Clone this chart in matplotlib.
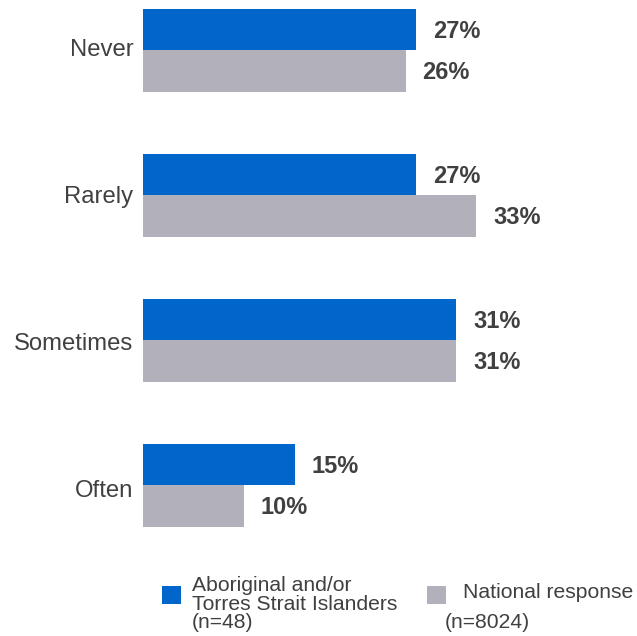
import matplotlib
matplotlib.use("Agg")
import matplotlib.pyplot as plt
from matplotlib.patches import Rectangle

categories = ["Never", "Rarely", "Sometimes", "Often"]
aboriginal = [27, 27, 31, 15]
national = [26, 33, 31, 10]
series_names = ["Aboriginal and/or\nTorres Strait Islanders\n(n=48)", "National response"]
series_n2 = "(n=8024)"

BLUE = "#0066CC"
GRAY = "#B1B0BB"
TXT = "#404040"

plt.rcParams['font.family'] = ['Liberation Sans', 'DejaVu Sans']

W, H = 637, 636
fig = plt.figure(figsize=(W / 100, H / 100), dpi=100)

left_px, right_px, top_px, bot_px = 143, 637, 0, 540
ax = fig.add_axes([left_px / W, 1 - bot_px / H, (right_px - left_px) / W, (bot_px - top_px) / H])
px_per_pct = 10.1
ax.set_xlim(0, (right_px - left_px) / px_per_pct)
unit = 145.0
ylen = (bot_px - top_px) / unit
top_off = 50 / unit
ax.set_ylim(ylen - top_off, -top_off)
bh = 41.5 / unit

ys = list(range(len(categories)))
ax.barh([y - bh / 2 for y in ys], aboriginal, height=bh, color=BLUE, linewidth=0)
ax.barh([y + bh / 2 for y in ys], national, height=bh, color=GRAY, linewidth=0)

off = 17 / px_per_pct
for y, a, n in zip(ys, aboriginal, national):
    ax.text(a + off, y - bh / 2 + 2 / unit, f"{a}%", ha="left", va="center", fontsize=17,
            fontweight="bold", color=TXT)
    ax.text(n + off, y + bh / 2 + 2 / unit, f"{n}%", ha="left", va="center", fontsize=17,
            fontweight="bold", color=TXT)

ax.set_yticks([y - 3 / unit + (2 / unit) * i for i, y in enumerate(ys)])
ax.set_yticklabels(categories, fontsize=17.2, color=TXT)
ax.tick_params(axis="y", length=0, pad=7)
ax.set_xticks([])
for s in ax.spines.values():
    s.set_visible(False)

def fx(x):
    return x / W

def fy(y):
    return 1 - y / H

fig.patches.append(Rectangle((fx(162), fy(604)), 19 / W, 18 / H, transform=fig.transFigure,
                             color=BLUE, linewidth=0))
fig.patches.append(Rectangle((fx(427), fy(604)), 19 / W, 18 / H, transform=fig.transFigure,
                             color=GRAY, linewidth=0))
fig.text(fx(192), fy(604), series_names[0], ha="left", va="center", fontsize=15.2,
         color=TXT, linespacing=0.95)
fig.text(fx(463), fy(593), series_names[1], ha="left", va="center", fontsize=15.2, color=TXT)
fig.text(fx(445), fy(623), series_n2, ha="left", va="center", fontsize=15.2, color=TXT)

fig.savefig("out.png", dpi=100)
